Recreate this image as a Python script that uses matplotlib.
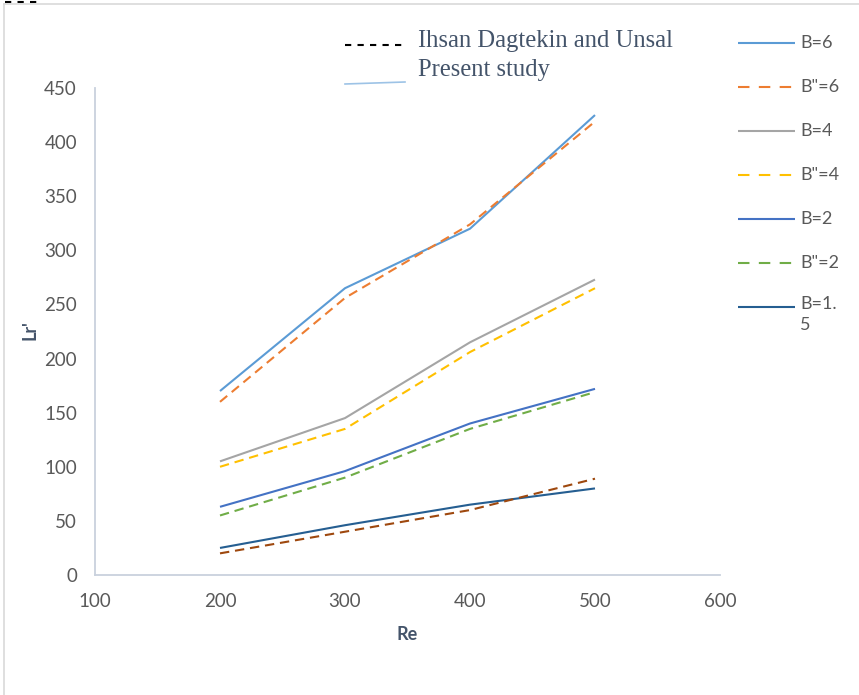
import matplotlib
matplotlib.use("Agg")
import matplotlib.pyplot as plt
from matplotlib.lines import Line2D

# ---- data ----
re_values = [200, 300, 400, 500]
b6 = [170, 265, 320, 425]
b6_dd = [160, 256, 324, 419]
b4 = [105, 145, 215, 273]
b4_dd = [100, 135, 206, 265]
b2 = [63, 96, 140, 172]
b2_dd = [55, 90, 135, 169]
b15 = [25, 46, 65, 80]
b15_dd = [20, 40, 60, 89]

series_labels = ['B=6', 'B"=6', 'B=4', 'B"=4', 'B=2', 'B"=2', 'B=1.\n5', None]
series_values = [b6, b6_dd, b4, b4_dd, b2, b2_dd, b15, b15_dd]
series_colors = ['#5B9BD5', '#ED7D31', '#A5A5A5', '#FFC000', '#4472C4', '#70AD47', '#255E91', '#9E480E']
series_dashed = [False, True, False, True, False, True, False, True]

x_ticks = [100, 200, 300, 400, 500, 600]
y_ticks = [0, 50, 100, 150, 200, 250, 300, 350, 400, 450]

W, H = 859, 695
fig = plt.figure(figsize=(W / 100, H / 100), dpi=100)
fig.patch.set_facecolor('white')

def fx(px):
    return px / W

def fy(py):
    return 1 - py / H

ax = fig.add_axes([fx(95), fy(575), fx(720) - fx(95), fy(88) - fy(575)])

lw = 1.5
for vals, col, dashed in zip(series_values, series_colors, series_dashed):
    line, = ax.plot(re_values, vals, color=col, lw=lw, solid_capstyle='butt')
    if dashed:
        line.set_dashes((4.5, 2.8))

ax.set_xlim(100, 600)
ax.set_ylim(0, 450)
ax.set_xticks(x_ticks)
ax.set_yticks(y_ticks)
tick_col = '#595959'
ax.tick_params(length=0, labelsize=13.5, colors=tick_col)
ax.tick_params(axis='y', pad=13)
ax.tick_params(axis='x', pad=13)
for lab in ax.get_xticklabels() + ax.get_yticklabels():
    lab.set_fontfamily('Lato')
for s in ['top', 'right']:
    ax.spines[s].set_visible(False)
for s in ['left', 'bottom']:
    ax.spines[s].set_color('#C9D1DD')
    ax.spines[s].set_linewidth(1.3)

# axis titles
fig.text(fx(407), fy(634), 'Re', ha='center', va='center', fontsize=13,
         fontweight='bold', color='#44546A', family='Lato')
fig.text(fx(30), fy(330), "Lr'", ha='center', va='center', fontsize=13,
         fontweight='bold', color='#44546A', family='Lato', rotation=90)

# right-hand legend (manual)
leg_y0, leg_dy = 43, 44
for i, (lab, col, dashed) in enumerate(zip(series_labels, series_colors, series_dashed)):
    if lab is None:
        continue
    y = leg_y0 + i * leg_dy
    ln = Line2D([fx(738), fx(795)], [fy(y), fy(y)], transform=fig.transFigure,
                color=col, lw=lw, solid_capstyle='butt')
    if dashed:
        ln.set_dashes((5.5, 4.5))
    fig.add_artist(ln)
    fig.text(fx(800), fy(y), lab, ha='left', va='top' if '\n' in lab else 'center',
             fontsize=13, color='#595959', family='Lato',
             linespacing=1.35,
             transform=fig.transFigure)
# multi-line label: first line centred on its handle
fig.texts[-1].set_y(fy(306 - 10))

# top annotation
ann = Line2D([fx(345), fx(405)], [fy(45), fy(45)], transform=fig.transFigure,
             color='black', lw=1.5)
ann.set_dashes((3, 3))
fig.add_artist(ann)
fig.add_artist(Line2D([fx(345), fx(405)], [fy(84), fy(82)], transform=fig.transFigure,
                      color='#9DC3E6', lw=1.2))
fig.text(fx(418), fy(41), 'Ihsan Dagtekin and Unsal', ha='left', va='center',
         fontsize=17.7, color='#44546A', family='Liberation Serif')
fig.text(fx(418), fy(70), 'Present study', ha='left', va='center',
         fontsize=17.7, color='#44546A', family='Liberation Serif')

# cropped dashes at the very top-left
tl = Line2D([fx(5), fx(42)], [fy(1.5), fy(1.5)], transform=fig.transFigure,
            color='black', lw=1.5)
tl.set_dashes((3, 3))
fig.add_artist(tl)

# light frame (top and left edges visible)
fig.add_artist(Line2D([fx(4), fx(4)], [fy(4), fy(H)], transform=fig.transFigure,
                      color='#D9D9D9', lw=1.2))
fig.add_artist(Line2D([fx(4), fx(W)], [fy(4), fy(4)], transform=fig.transFigure,
                      color='#D9D9D9', lw=1.2))

fig.savefig('out.png', dpi=100, facecolor='white')
